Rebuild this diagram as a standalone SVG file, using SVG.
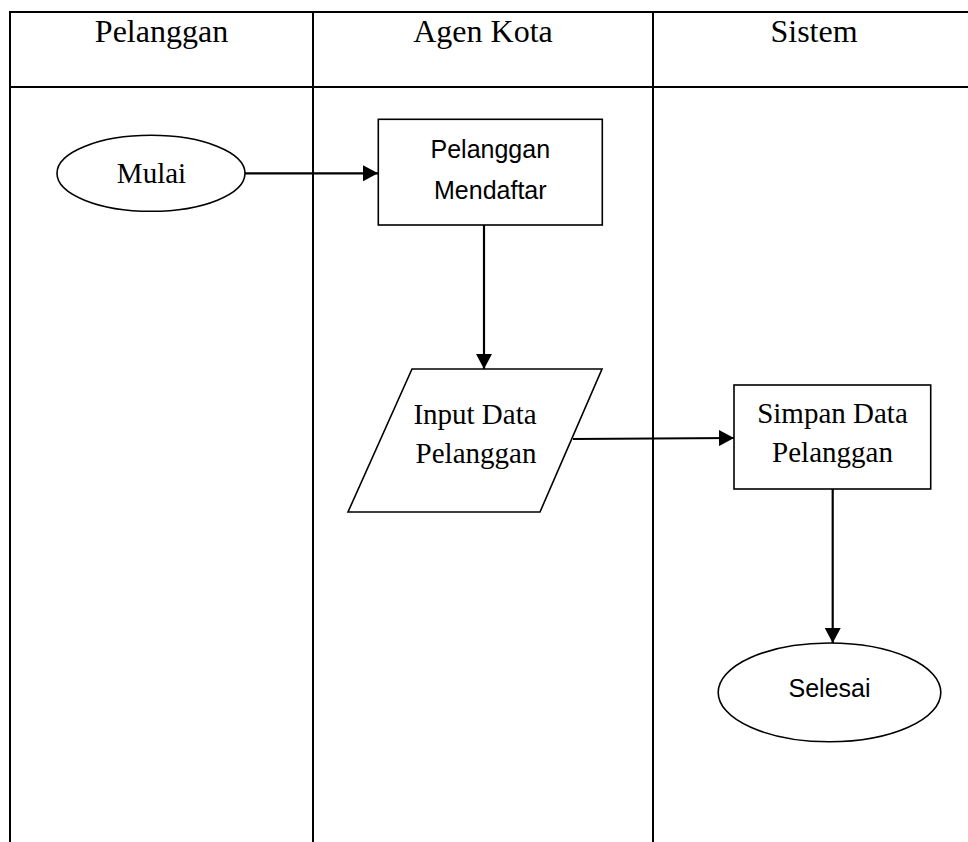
<svg xmlns="http://www.w3.org/2000/svg" width="968" height="842" viewBox="0 0 968 842">
  <style>
    .grid { stroke: #000; stroke-width: 2; fill: none; }
    .shape { stroke: #000; stroke-width: 1.6; fill: #fff; }
    .head { font-family: "Liberation Serif", "Times New Roman", serif; font-size: 32px; fill: #000; text-anchor: middle; }
    .serif { font-family: "Liberation Serif", "Times New Roman", serif; font-size: 29px; fill: #000; text-anchor: middle; }
    .sans { font-family: "Liberation Sans", Arial, sans-serif; font-size: 25px; fill: #000; text-anchor: middle; }
    .conn { stroke: #000; stroke-width: 2.2; fill: none; }
  </style>
  <defs>
    <marker id="arrow" markerUnits="userSpaceOnUse" markerWidth="16" markerHeight="16" refX="15" refY="8" orient="auto">
      <path d="M0,0 L15,8 L0,16 Z" fill="#000"/>
    </marker>
  </defs>

  <rect width="968" height="842" fill="#fff"/>

  <!-- swimlane table -->
  <g id="lanes">
    <line class="grid" x1="9" y1="12" x2="968" y2="12"/>
    <line class="grid" x1="9" y1="87" x2="968" y2="87"/>
    <line class="grid" x1="10" y1="11" x2="10" y2="842"/>
    <line class="grid" x1="313" y1="11" x2="313" y2="842"/>
    <line class="grid" x1="653" y1="11" x2="653" y2="842"/>
    <text class="head" x="161.5" y="42">Pelanggan</text>
    <text class="head" x="483" y="42">Agen Kota</text>
    <text class="head" x="814" y="42">Sistem</text>
  </g>

  <!-- connectors -->
  <g id="connectors">
    <path class="conn" d="M245,173.3 H378" marker-end="url(#arrow)"/>
    <path class="conn" d="M484,225 V369" marker-end="url(#arrow)"/>
    <path class="conn" d="M573,439 L734,438" marker-end="url(#arrow)"/>
    <path class="conn" d="M832.7,489 V643" marker-end="url(#arrow)"/>
  </g>

  <g id="mulai">
    <ellipse class="shape" cx="151" cy="173.3" rx="94" ry="38"/>
    <text class="serif" x="151.5" y="183">Mulai</text>
  </g>

  <g id="pelanggan-mendaftar">
    <rect class="shape" x="378.3" y="119.3" width="224" height="105.7"/>
    <text class="sans" x="490.3" y="158.3">Pelanggan</text>
    <text class="sans" x="490.3" y="199">Mendaftar</text>
  </g>

  <g id="input-data">
    <polygon class="shape" points="412,369 602,369 540,512 348,512"/>
    <text class="serif" x="475" y="424">Input Data</text>
    <text class="serif" x="476" y="463">Pelanggan</text>
  </g>

  <g id="simpan-data">
    <rect class="shape" x="734" y="385" width="196.7" height="104"/>
    <text class="serif" x="832.5" y="423">Simpan Data</text>
    <text class="serif" x="832.5" y="462">Pelanggan</text>
  </g>

  <g id="selesai">
    <ellipse class="shape" cx="829.5" cy="692.4" rx="111.3" ry="49.4"/>
    <text class="sans" x="829.5" y="697.3">Selesai</text>
  </g>
</svg>
